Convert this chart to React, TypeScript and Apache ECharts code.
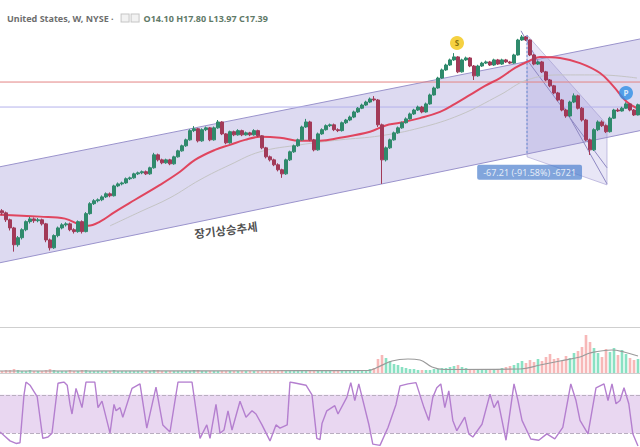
import React, { useEffect, useRef } from "react";
import * as echarts from "echarts";

// ---- weekly candles (price, log scale) ----
const opens = [
  1.95, 1.87, 1.62, 1.37, 0.968, 1.12, 1.32, 1.56, 1.65, 1.59,
  1.62, 1.49, 1.07, 0.909, 1.17, 1.37, 1.46, 1.49, 1.32, 1.27,
  1.56, 1.27, 1.84, 2.26, 2.40, 2.45, 2.60, 2.77, 2.66, 3.26,
  3.40, 3.47, 3.78, 3.85, 4.18, 4.27, 4.37, 4.18, 4.74, 6.19,
  5.58, 5.25, 5.58, 5.14, 5.94, 6.72, 7.46, 8.43, 10.2, 10.6,
  8.26, 10.4, 10.8, 8.43, 10.8, 12.2, 9.54, 7.93, 9.98, 9.35,
  10.2, 9.35, 9.74, 9.35, 10.2, 9.16, 7.15, 5.94, 5.58, 5.04,
  4.55, 4.18, 5.58, 6.59, 7.46, 8.43, 11.0, 12.2, 8.43, 6.86,
  9.54, 10.4, 11.3, 11.5, 10.4, 10.2, 12.0, 12.7, 13.5, 15.0,
  16.2, 17.3, 18.4, 19.6, 19.2, 11.5, 5.58, 7.15, 8.43, 9.74,
  10.8, 12.0, 13.0, 14.4, 15.6, 16.6, 15.0, 17.7, 21.3, 24.6,
  30.2, 35.7, 39.5, 43.9, 46.7, 34.3, 43.9, 45.7, 38.7, 31.6,
  38.7, 41.1, 42.1, 39.5, 43.9, 40.3, 43.9, 42.1, 41.1, 48.6,
  66.2, 70.5, 66.2, 48.6, 40.3, 42.1, 34.3, 29.0, 25.7, 22.2,
  19.2, 15.6, 13.8, 18.4, 20.9, 16.2, 12.7, 8.43, 6.86, 10.4,
  12.2, 11.3, 9.98, 13.2, 15.6, 15.3, 16.2, 17.7, 15.6, 14.1,
];
const closes = [
  1.87, 1.62, 1.37, 0.968, 1.12, 1.32, 1.56, 1.65, 1.59, 1.62,
  1.49, 1.07, 0.909, 1.17, 1.37, 1.46, 1.49, 1.32, 1.27, 1.56,
  1.27, 1.84, 2.26, 2.40, 2.45, 2.60, 2.77, 2.66, 3.26, 3.40,
  3.47, 3.78, 3.85, 4.18, 4.27, 4.37, 4.18, 4.74, 6.19, 5.58,
  5.25, 5.58, 5.14, 5.94, 6.72, 7.46, 8.43, 10.2, 10.6, 8.26,
  10.4, 10.8, 8.43, 10.8, 12.2, 9.54, 7.93, 9.98, 9.35, 10.2,
  9.35, 9.74, 9.35, 10.2, 9.16, 7.15, 5.94, 5.58, 5.04, 4.55,
  4.18, 5.58, 6.59, 7.46, 8.43, 11.0, 12.2, 8.43, 6.86, 9.54,
  10.4, 11.3, 11.5, 10.4, 10.2, 12.0, 12.7, 13.5, 15.0, 16.2,
  17.3, 18.4, 19.6, 19.2, 11.5, 5.58, 7.15, 8.43, 9.74, 10.8,
  12.0, 13.0, 14.4, 15.6, 16.6, 15.0, 17.7, 21.3, 24.6, 30.2,
  35.7, 39.5, 43.9, 46.7, 34.3, 43.9, 45.7, 38.7, 31.6, 38.7,
  41.1, 42.1, 39.5, 43.9, 40.3, 43.9, 42.1, 41.1, 48.6, 66.2,
  70.5, 66.2, 48.6, 40.3, 42.1, 34.3, 29.0, 25.7, 22.2, 19.2,
  15.6, 13.8, 18.4, 20.9, 16.2, 12.7, 8.43, 6.86, 10.4, 12.2,
  11.3, 9.98, 13.2, 15.6, 15.3, 16.2, 17.7, 15.6, 14.1, 17.39,
];
const lows = [
  1.78, 1.55, 1.30, 0.84, 0.93, 1.08, 1.28, 1.50, 1.52, 1.54,
  1.44, 1.02, 0.86, 0.89, 1.13, 1.33, 1.41, 1.28, 1.22, 1.24,
  1.22, 1.25, 1.80, 2.20, 2.32, 2.38, 2.54, 2.58, 2.62, 3.18,
  3.30, 3.40, 3.68, 3.78, 4.08, 4.15, 4.08, 4.10, 4.65, 5.40,
  5.10, 5.15, 5.00, 5.05, 5.85, 6.60, 7.30, 8.30, 9.90, 8.00,
  8.10, 10.1, 8.20, 8.30, 10.6, 9.30, 7.70, 7.80, 9.10, 9.20,
  9.10, 9.20, 9.10, 9.20, 8.95, 6.95, 5.75, 5.40, 4.90, 4.40,
  3.85, 4.10, 5.45, 6.45, 7.30, 8.30, 10.8, 8.20, 6.65, 6.75,
  9.35, 10.2, 11.0, 10.1, 9.90, 10.0, 11.7, 12.4, 13.2, 14.7,
  15.9, 17.0, 18.0, 18.7, 11.0, 3.40, 5.40, 7.00, 8.30, 9.55,
  10.6, 11.8, 12.8, 14.1, 15.3, 14.6, 14.8, 17.4, 21.0, 24.2,
  29.7, 35.0, 38.8, 43.0, 33.4, 33.8, 43.0, 37.8, 29.0, 31.0,
  38.0, 40.3, 38.7, 38.8, 39.5, 39.6, 41.2, 40.3, 40.5, 48.0,
  65.0, 64.8, 47.5, 39.3, 39.5, 33.5, 28.3, 25.0, 21.6, 18.7,
  15.2, 13.3, 13.5, 18.0, 15.8, 12.3, 8.20, 6.18, 6.70, 10.1,
  11.0, 9.70, 9.80, 13.0, 15.0, 15.1, 16.0, 15.2, 13.8, 13.97,
];
const highs = [
  2.02, 1.92, 1.66, 1.40, 1.16, 1.36, 1.60, 1.72, 1.70, 1.68,
  1.66, 1.52, 1.10, 1.20, 1.41, 1.51, 1.54, 1.53, 1.36, 1.60,
  1.60, 1.90, 2.33, 2.48, 2.52, 2.68, 2.85, 2.85, 3.34, 3.50,
  3.56, 3.88, 3.95, 4.28, 4.38, 4.48, 4.48, 4.85, 6.45, 6.35,
  5.72, 5.72, 5.70, 6.08, 6.88, 7.64, 8.65, 10.5, 11.2, 10.8,
  10.7, 11.1, 11.0, 11.1, 12.7, 12.4, 9.70, 10.2, 10.2, 10.5,
  10.4, 10.0, 9.95, 10.5, 10.4, 9.30, 7.30, 6.10, 5.72, 5.20,
  4.65, 5.72, 6.75, 7.65, 8.65, 11.3, 13.0, 12.5, 8.60, 9.80,
  10.7, 11.6, 11.8, 11.8, 10.7, 12.3, 13.0, 13.9, 15.4, 16.6,
  17.8, 18.9, 20.2, 20.8, 19.6, 11.8, 7.35, 8.65, 10.0, 11.1,
  12.3, 13.4, 14.8, 16.0, 17.1, 17.0, 18.2, 21.9, 25.3, 31.0,
  36.7, 40.6, 45.1, 50.5, 47.5, 45.0, 47.0, 46.5, 39.5, 39.7,
  42.2, 43.3, 43.0, 45.0, 44.8, 45.0, 44.8, 43.0, 49.8, 67.8,
  73.39, 72.0, 67.0, 49.5, 43.2, 43.0, 35.0, 29.6, 26.2, 22.7,
  19.6, 16.0, 18.9, 22.0, 21.4, 16.6, 13.0, 8.65, 10.7, 12.6,
  12.6, 11.6, 13.6, 16.0, 16.2, 16.7, 18.3, 18.0, 15.9, 17.8,
];
const volumes = [
  2, 3, 3, 4, 3, 2, 2, 3, 2, 2,
  2, 3, 4, 3, 2, 2, 2, 3, 2, 2,
  3, 3, 2, 2, 2, 2, 2, 2, 3, 2,
  2, 2, 2, 2, 2, 2, 2, 2, 3, 3,
  2, 2, 2, 2, 2, 2, 2, 2, 3, 3,
  2, 2, 2, 2, 2, 2, 2, 2, 2, 2,
  2, 2, 2, 2, 2, 2, 2, 2, 2, 2,
  3, 2, 2, 2, 2, 3, 3, 2, 2, 2,
  2, 2, 2, 2, 3, 3, 2, 2, 2, 3,
  3, 3, 4, 5, 14, 18, 15, 12, 9, 8,
  6, 5, 4, 4, 3, 3, 3, 3, 4, 4,
  5, 5, 6, 7, 8, 6, 5, 4, 3, 4,
  4, 3, 3, 3, 4, 5, 6, 7, 8, 10,
  12, 10, 13, 11, 14, 12, 16, 19, 14, 15,
  12, 17, 15, 20, 22, 26, 38, 31, 25, 20,
  16, 24, 21, 25, 18, 23, 19, 15, 13, 14,
];
const weeks = closes.map((_, i) => "W" + (i + 1));

// ---- moving averages (x in weeks) ----
const ma50X = [0, 10, 16.25, 20, 22, 25, 28.75, 33.75, 40, 45, 48.75, 53.75, 57.5, 61.25, 65, 70, 75, 80, 85, 92.5, 96.25, 100, 105, 110, 113.75, 117.5, 121.25, 125, 128.75, 131.75, 135, 140, 145, 150, 153.25, 156.75, 159.25];
const ma50Y = [1.80, 1.73, 1.66, 1.46, 1.43, 1.56, 1.91, 2.45, 3.33, 4.37, 5.58, 6.86, 7.61, 8.43, 8.98, 8.80, 8.26, 8.26, 8.80, 9.98, 11.3, 12.0, 13.2, 15.0, 17.7, 21.3, 25.7, 30.2, 37.2, 42.1, 46.7, 45.7, 41.1, 33.5, 25.7, 18.4, 16.2];
const ma200X = [27.5, 35, 42.5, 50, 57.5, 65, 75, 85, 95, 105, 115, 125, 131.75, 140, 150, 159.25];
const ma200Y = [1.43, 1.91, 2.55, 3.70, 5.04, 6.59, 7.61, 8.43, 9.16, 10.8, 14.1, 21.3, 29.0, 32.2, 32.2, 30.2];

// ---- drawings ----
const channelX = [0, 160, 160, 0];
const channelY = [4.84, 67.6, 10.2, 0.668];
const downX = [131.75, 151.75, 151.75, 131.75];
const downY = [73.4, 11.5, 3.33, 5.94];
const downLineA = [[130.25, 80.0], [151.75, 3.4]];
const downLineB = [[131.75, 43.9], [151.75, 4.74]];
const resistanceLevel = 27.8;
const supportLevel = 16.6;
const measureTop = 73.39;
const measureBottom = 6.18;
const measureX = 131.75;
const measureText = "-67.21 (-91.58%) -6721";
const trendText = "장기상승추세";

// ---- volume MA and Stoch RSI (x in weeks) ----
const volMaX = [0, 75, 92, 94, 98, 102, 105, 108, 111, 130, 135, 140, 145, 147.5, 153, 156, 159.5];
const volMaY = [2, 2.3, 2.5, 5, 12, 14, 13, 6, 3.5, 4, 8, 12, 16, 20, 23, 21, 17];
const stochX = [0, 2.5, 4, 5, 6, 6.5, 7.5, 8.5, 9.3, 10.7, 12, 13, 14.5, 16, 16.8, 17.5, 18, 19, 19.5, 20.5, 21.5, 23.7, 24.5, 25.5, 26.5, 27.5, 28.5, 29, 30, 30.7, 33, 35, 36.7, 39, 40.7, 42.5, 44.5, 48, 50, 51.7, 52.5, 54, 55, 56, 57, 58, 60, 61.5, 63, 64, 65.5, 67.5, 69, 70, 71.8, 72.5, 76.5, 78, 79.2, 80, 80.5, 81.7, 83.7, 84.5, 86.7, 87.7, 88.7, 89.7, 92.2, 93.2, 95, 97, 99, 100, 102, 104, 106, 107.2, 108.2, 109.2, 110.2, 111.2, 112.2, 113.2, 114.2, 116.2, 117.2, 118.2, 120.5, 122.5, 123.5, 124.5, 125.5, 126.5, 128.5, 129.5, 130.5, 132.7, 134.7, 136.7, 138.7, 140.7, 142.7, 144, 145, 147, 149, 151, 152, 153, 154, 155, 156, 157.2, 158.2, 159.5];
const stochK = [22, 8, 4, 5, 80, 100, 95, 85, 77, 12, 14, 20, 98, 100, 95, 65, 50, 90, 80, 60, 100, 100, 60, 70, 45, 20, 65, 55, 60, 45, 90, 97, 28, 92, 33, 22, 100, 100, 12, 33, 12, 65, 20, 25, 55, 25, 70, 45, 55, 50, 33, 8, 33, 28, 33, 100, 95, 80, 12, 10, 35, 55, 63, 50, 76, 99, 71, 97, 34, 3, 1, 29, 65, 94, 97, 99, 60, 40, 76, 91, 97, 60, 86, 40, 24, 45, 19, 14, 34, 81, 60, 71, 40, 9, 97, 71, 40, 11, 9, 19, 11, 29, 97, 71, 40, 19, 91, 97, 71, 97, 66, 71, 91, 66, 19, 0];

const pairs = (xs: number[], ys: number[]) => xs.map((x, i) => [x, ys[i]]);

function polygonSeries(xs: number[], ys: number[], fill: string, stroke: string, z: number) {
  return {
    type: "custom",
    xAxisIndex: 1,
    yAxisIndex: 0,
    z,
    silent: true,
    data: [[xs[0], ys[0]]],
    renderItem: (_p: any, api: any) => ({
      type: "polygon",
      shape: { points: xs.map((x, i) => api.coord([x, ys[i]])) },
      style: { fill, stroke, lineWidth: 1 },
    }),
  };
}

function lineSeries(data: number[][], color: string, width: number, z: number, extra: any = {}) {
  return {
    type: "line",
    xAxisIndex: 1,
    yAxisIndex: 0,
    data,
    z,
    silent: true,
    showSymbol: false,
    symbol: "none",
    lineStyle: { color, width, ...(extra.lineStyle || {}) },
    smooth: extra.smooth || false,
  };
}

export default function App() {
  const ref = useRef<HTMLDivElement>(null);
  useEffect(() => {
    const chart = echarts.init(ref.current!, null, { renderer: "svg" });
    const upC = "#2f8a6c";
    const downC = "#a23a58";
    const option: any = {
      animation: false,
      backgroundColor: "#ffffff",
      title: {
        left: 2,
        top: 4,
        text: "{a|United States, W, NYSE ·}{g| }{b| }{g2| }{b| }{g3| }{v|O14.10 H17.80 L13.97 C17.39}",
        textStyle: {
          rich: {
            a: { fontSize: 9, color: "#6e6e6e", fontFamily: "Noto Sans" },
            g: { width: 8 },
            g2: { width: 3 },
            g3: { width: 5 },
            b: { width: 7, height: 7, borderColor: "#c5c5c5", borderWidth: 1, backgroundColor: "#f2f2f2" },
            v: { fontSize: 9, color: "#5f7a68", fontFamily: "Noto Sans" },
          },
        },
      },
      grid: [
        { left: 0, right: 0, top: 0, height: 327 },
        { left: 0, right: 0, top: 328, height: 45 },
        { left: 0, right: 0, top: 382, height: 64 },
      ],
      xAxis: [
        { type: "category", gridIndex: 0, data: weeks, boundaryGap: true, axisLine: { onZero: false, lineStyle: { color: "#cfcfcf" } }, axisTick: { show: false }, axisLabel: { show: false }, splitLine: { show: false } },
        { type: "value", gridIndex: 0, min: 0, max: 160, show: false },
        { type: "category", gridIndex: 1, data: weeks, boundaryGap: true, axisLine: { onZero: false, lineStyle: { color: "#cfcfcf" } }, axisTick: { show: false }, axisLabel: { show: false }, splitLine: { show: false } },
        { type: "value", gridIndex: 1, min: 0, max: 160, show: false },
        { type: "value", gridIndex: 2, min: 0, max: 160, show: false },
      ],
      yAxis: [
        { type: "log", logBase: 10, gridIndex: 0, min: 0.1774, max: 151.1, show: false },
        { type: "value", gridIndex: 1, min: 0, max: 45, show: false },
        { type: "value", gridIndex: 2, min: 0, max: 100, show: false },
      ],
      series: [
        polygonSeries(channelX, channelY, "rgba(150,140,212,0.32)", "none", 1),
        lineSeries([[channelX[0], channelY[0]], [channelX[1], channelY[1]]], "#9a93cc", 1, 2),
        lineSeries([[channelX[3], channelY[3]], [channelX[2], channelY[2]]], "#9a93cc", 1, 2),
        polygonSeries(downX, downY, "rgba(150,140,212,0.22)", "rgba(154,147,204,0.55)", 2),
        lineSeries(downLineA, "#8e88c2", 1, 3),
        lineSeries(downLineB, "#8e88c2", 1, 3),
        lineSeries([[0, resistanceLevel], [160, resistanceLevel]], "#e38383", 1, 3),
        lineSeries([[0, supportLevel], [160, supportLevel]], "#b5b3ec", 1, 3),
        lineSeries(pairs(ma200X, ma200Y), "#c4c4c4", 1, 4, { smooth: 0.4 }),
        lineSeries(pairs(ma50X, ma50Y), "#e0455e", 2, 5, { smooth: 0.4 }),
        {
          type: "candlestick",
          xAxisIndex: 0,
          yAxisIndex: 0,
          z: 6,
          barWidth: 2.8,
          data: opens.map((o, i) => [o, closes[i], lows[i], highs[i]]),
          itemStyle: { color: upC, color0: downC, borderColor: upC, borderColor0: downC, borderWidth: 1 },
        },
        lineSeries([[measureX, measureTop], [measureX, measureBottom]], "#6b8fd3", 1, 7, { lineStyle: { type: [2, 2] } }),
        {
          type: "scatter",
          xAxisIndex: 1,
          yAxisIndex: 0,
          z: 9,
          silent: true,
          symbolSize: 0,
          data: [[132.4, 4.33]],
          label: {
            show: true,
            position: "inside",
            formatter: measureText,
            fontSize: 9,
            fontFamily: "Noto Sans",
            color: "#ffffff",
            backgroundColor: "rgba(76,128,206,0.88)",
            padding: [3, 6],
            borderRadius: 2,
          },
        },
        {
          type: "scatter",
          xAxisIndex: 1,
          yAxisIndex: 0,
          z: 9,
          silent: true,
          symbolSize: 0,
          data: [[56.5, 1.32]],
          label: {
            show: true,
            position: "inside",
            formatter: trendText,
            fontSize: 11.5,
            fontWeight: "bold",
            fontFamily: "Noto Sans CJK KR",
            color: "#1e1e1e",
            rotate: 7,
          },
        },
        {
          type: "scatter",
          xAxisIndex: 1,
          yAxisIndex: 0,
          z: 9,
          silent: true,
          symbol: "circle",
          symbolSize: 14,
          data: [
            { value: [114.25, 62.3], itemStyle: { color: "#f2c511" }, label: { formatter: "S", color: "#6b5a00" } },
            { value: [156.5, 22.2], itemStyle: { color: "#2f8fe6" }, label: { formatter: "P", color: "#ffffff" } },
          ],
          label: { show: true, position: "inside", fontSize: 8, fontWeight: "bold", fontFamily: "Noto Sans" },
        },
        {
          type: "bar",
          xAxisIndex: 2,
          yAxisIndex: 1,
          barWidth: 2.6,
          silent: true,
          data: volumes.map((v, i) => ({
            value: v,
            itemStyle: { color: closes[i] >= opens[i] ? "rgba(60,205,155,0.6)" : "rgba(240,125,125,0.55)" },
          })),
        },
        {
          type: "line",
          xAxisIndex: 3,
          yAxisIndex: 1,
          data: pairs(volMaX, volMaY),
          showSymbol: false,
          symbol: "none",
          smooth: 0.4,
          silent: true,
          lineStyle: { color: "#9a9a9a", width: 1.2 },
          z: 5,
        },
        {
          type: "line",
          xAxisIndex: 4,
          yAxisIndex: 2,
          data: pairs(stochX, stochK),
          showSymbol: false,
          symbol: "none",
          silent: true,
          lineStyle: { color: "#b47fcf", width: 1.4 },
          z: 5,
          markArea: {
            silent: true,
            itemStyle: { color: "rgba(196,150,218,0.38)" },
            data: [[{ yAxis: 20 }, { yAxis: 80 }]],
          },
          markLine: {
            silent: true,
            symbol: "none",
            label: { show: false },
            lineStyle: { color: "#b9aec0", type: "dashed", width: 1 },
            data: [{ yAxis: 20 }, { yAxis: 80 }],
          },
        },
      ],
    };
    chart.setOption(option);
    return () => chart.dispose();
  }, []);
  return (
    <div
      ref={ref}
      style={{ position: "fixed", left: 0, top: 0, width: 640, height: 447, background: "#fff" }}
    />
  );
}
